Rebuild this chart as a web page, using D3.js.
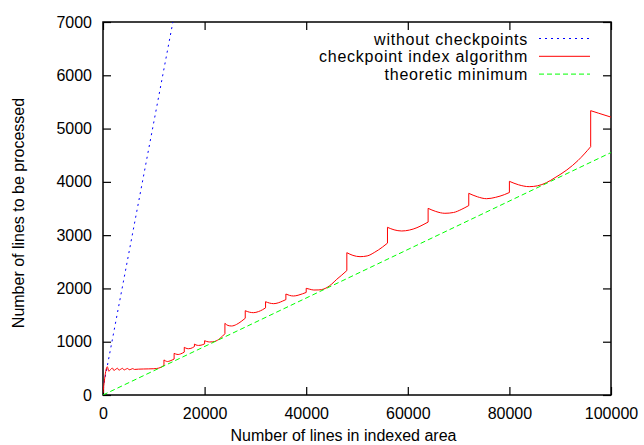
<!DOCTYPE html>
<html>
<head>
<meta charset="utf-8">
<script src="https://cdn.jsdelivr.net/npm/d3@7"></script>
<style>
  body { margin: 0; background: #fff; }
  svg { display: block; }
  text { font-family: "Liberation Sans", Arial, Helvetica, sans-serif; fill: #000; }
</style>
</head>
<body>
<svg id="chart"></svg>
<script>
// values
var xTicks = [0, 20000, 40000, 60000, 80000, 100000];
var yTicks = [0, 1000, 2000, 3000, 4000, 5000, 6000, 7000];
var seriesNames = ['without checkpoints', 'checkpoint index algorithm', 'theoretic minimum'];

// without checkpoints (runs off the top of the plot)
var noCheckpoints = [[0, 120], [14000, 7120]];

// theoretic minimum
var theoreticMin = [[0, 0], [100000, 4550]];

// checkpoint index algorithm (equal x twice = vertical jump)
var checkpointAlgo = [
  [0, 40], [850, 530], [1150, 445], [1400, 470], [1850, 505], [2150, 460], [2400, 475],
  [2850, 502], [3150, 465], [3400, 478], [3850, 500], [4150, 470], [4400, 480],
  [4850, 498], [5150, 474], [5500, 482], [5850, 495], [6200, 480], [7000, 485],
  [8000, 488], [9000, 490], [10000, 493], [11000, 505], [12000, 555],
  [12000, 658], [12300, 640], [12700, 628], [13200, 640], [14000, 675],
  [14000, 782], [14300, 770], [14800, 760], [15300, 772], [16000, 805],
  [16000, 895], [16300, 880], [16800, 868], [17300, 875], [18000, 910],
  [18000, 955], [18300, 940], [18800, 930], [19300, 935], [20000, 960],
  [20000, 1019], [20400, 1005], [21000, 995], [22000, 1005], [23000, 1060], [24000, 1150],
  [24000, 1345], [24600, 1305], [25300, 1295], [26300, 1325], [27200, 1380], [28000, 1440],
  [28000, 1582], [28800, 1555], [29600, 1545], [30600, 1565], [31400, 1600], [32000, 1635],
  [32000, 1751], [32800, 1725], [33600, 1714], [34500, 1730], [35300, 1760], [36000, 1790],
  [36000, 1895], [36700, 1870], [37500, 1858], [38400, 1872], [39300, 1900], [40000, 1925],
  [40000, 2002], [40700, 1985], [41500, 1970], [42500, 1972], [43500, 1990], [45000, 2080],
  [46000, 2170], [47000, 2250], [48000, 2335],
  [48000, 2671], [49200, 2620], [50600, 2596], [52000, 2610], [53500, 2680], [55000, 2775], [56000, 2850],
  [56000, 3147], [57300, 3100], [58800, 3078], [60300, 3095], [61800, 3140], [63000, 3195], [64000, 3245],
  [64000, 3503], [65500, 3445], [67300, 3410], [69000, 3425], [70500, 3480], [72000, 3555],
  [72000, 3785], [73700, 3720], [75500, 3684], [77300, 3710], [79000, 3760], [80000, 3800],
  [80000, 4010], [81800, 3945], [83900, 3910], [85500, 3925], [87300, 3985], [89000, 4080],
  [91300, 4223], [93500, 4400], [96000, 4660],
  [96000, 5336], [97500, 5290], [100000, 5215]
];

var width = 644,
    height = 445,
    margin = {top: 22, right: 33, bottom: 50, left: 103};

var svg = d3.select('#chart')
  .attr('width', width)
  .attr('height', height);

var x = d3.scaleLinear().domain([0, 100000]).range([margin.left, width - margin.right]);
var y = d3.scaleLinear().domain([0, 7000]).range([height - margin.bottom, margin.top]);

svg.append('clipPath').attr('id', 'plot-clip')
  .append('rect')
  .attr('x', margin.left).attr('y', margin.top)
  .attr('width', x.range()[1] - x.range()[0])
  .attr('height', y.range()[0] - y.range()[1]);

// axes, gnuplot style: ticks pointing inward, mirrored on top/right
var fmt = d3.format('d');
var tickStyle = function(g) {
  g.select('.domain').remove();
  g.selectAll('.tick line').attr('stroke', '#000').attr('stroke-width', 1.2);
  g.selectAll('.tick text').style('font-size', '16px');
};

svg.append('g')
  .attr('transform', 'translate(0,' + y.range()[0] + ')')
  .call(d3.axisBottom(x).tickValues(xTicks).tickFormat(fmt).tickSize(-8).tickPadding(13))
  .call(tickStyle);

svg.append('g')
  .attr('transform', 'translate(0,' + y.range()[1] + ')')
  .call(d3.axisTop(x).tickValues(xTicks).tickFormat('').tickSize(-8))
  .call(tickStyle);

svg.append('g')
  .attr('transform', 'translate(' + x.range()[0] + ',0)')
  .call(d3.axisLeft(y).tickValues(yTicks).tickFormat(fmt).tickSize(-8).tickPadding(11))
  .call(tickStyle);

svg.append('g')
  .attr('transform', 'translate(' + x.range()[1] + ',0)')
  .call(d3.axisRight(y).tickValues(yTicks).tickFormat('').tickSize(-8))
  .call(tickStyle);

svg.selectAll('g text').attr('font-family', null);

// border
svg.append('rect')
  .attr('x', x.range()[0]).attr('y', y.range()[1])
  .attr('width', x.range()[1] - x.range()[0])
  .attr('height', y.range()[0] - y.range()[1])
  .attr('fill', 'none')
  .attr('stroke', '#000')
  .attr('stroke-width', 1.5);

// axis titles
svg.append('text')
  .attr('x', 343.5).attr('y', 441)
  .attr('text-anchor', 'middle')
  .style('font-size', '16px')
  .text('Number of lines in indexed area');

svg.append('text')
  .attr('transform', 'translate(24,' + 213 + ')rotate(-90)')
  .attr('text-anchor', 'middle')
  .style('font-size', '16px')
  .text('Number of lines to be processed');

var line = d3.line().x(function(d) { return x(d[0]); }).y(function(d) { return y(d[1]); });

// split the algorithm series at its jumps so each arc can be smoothed
function jumpPath(points) {
  var pieces = [], cur = [points[0]];
  for (var i = 1; i < points.length; i++) {
    if (points[i][0] === points[i - 1][0]) {
      pieces.push(cur);
      cur = [];
    }
    cur.push(points[i]);
  }
  pieces.push(cur);
  var smooth = d3.line()
    .x(function(d) { return x(d[0]); })
    .y(function(d) { return y(d[1]); })
    .curve(d3.curveMonotoneX);
  return pieces.map(function(p, i) {
    var s = smooth(p);
    return i === 0 ? s : 'L' + s.slice(1);
  }).join('');
}

var plot = svg.append('g').attr('clip-path', 'url(#plot-clip)');

plot.append('path')
  .attr('d', line(noCheckpoints))
  .attr('fill', 'none')
  .attr('stroke', '#0000ff')
  .attr('stroke-width', 1)
  .attr('stroke-dasharray', '2,4');

plot.append('path')
  .attr('d', jumpPath(checkpointAlgo))
  .attr('fill', 'none')
  .attr('stroke', '#ff0000')
  .attr('stroke-width', 1);

plot.append('path')
  .attr('d', line(theoreticMin))
  .attr('fill', 'none')
  .attr('stroke', '#00ff00')
  .attr('stroke-width', 1)
  .attr('stroke-dasharray', '5,3');

// legend
var legendStyles = [
  {color: '#0000ff', dash: '2,4'},
  {color: '#ff0000', dash: null},
  {color: '#00ff00', dash: '5,3'}
];
var legend = svg.append('g');
seriesNames.forEach(function(name, i) {
  var yy = 38.5 + i * 17.8;
  legend.append('text')
    .attr('x', 528).attr('y', yy + 6)
    .attr('text-anchor', 'end')
    .style('font-size', '16px')
    .style('letter-spacing', '0.75px')
    .text(name);
  legend.append('line')
    .attr('x1', 539).attr('x2', 590)
    .attr('y1', yy).attr('y2', yy)
    .attr('stroke', legendStyles[i].color)
    .attr('stroke-width', 1)
    .attr('stroke-dasharray', legendStyles[i].dash);
});
</script>
</body>
</html>
